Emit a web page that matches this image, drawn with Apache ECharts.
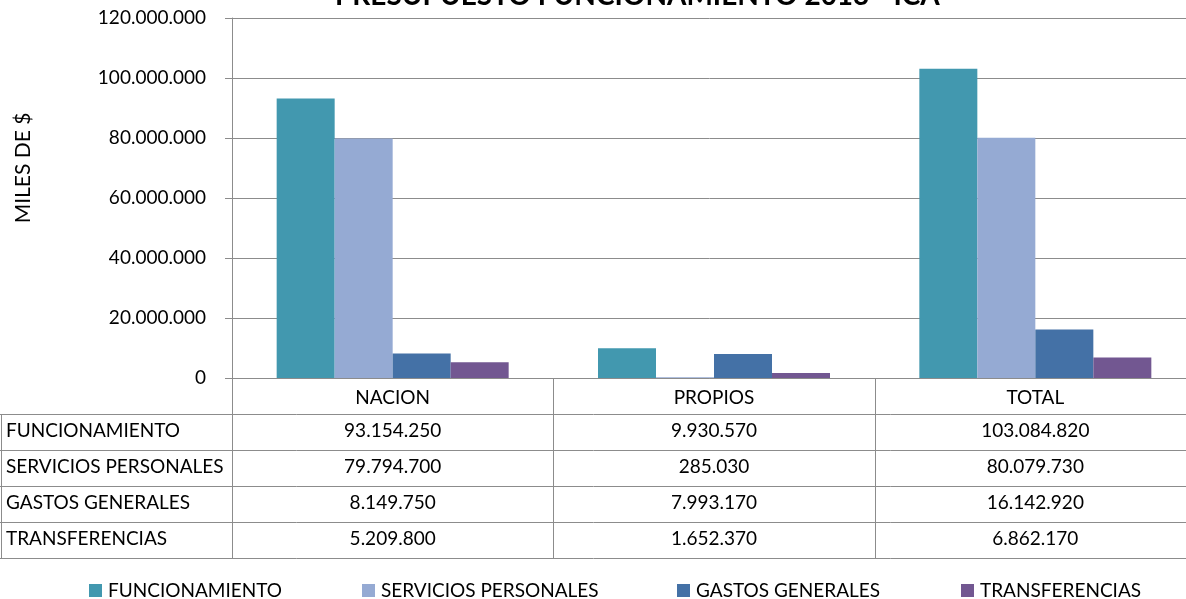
<!DOCTYPE html>
<html>
<head>
<meta charset="utf-8">
<script src="https://cdn.jsdelivr.net/npm/echarts@6/dist/echarts.min.js"></script>
<style>
html,body{margin:0;padding:0;background:#fff;}
#c{width:1186px;height:599px;}
</style>
</head>
<body>
<div id="c"></div>
<script>
var categories = ['NACION', 'PROPIOS', 'TOTAL'];
var seriesNames = ['FUNCIONAMIENTO', 'SERVICIOS PERSONALES', 'GASTOS GENERALES', 'TRANSFERENCIAS'];
var funcionamiento = [93154250, 9930570, 103084820];
var serviciosPersonales = [79794700, 285030, 80079730];
var gastosGenerales = [8149750, 7993170, 16142920];
var transferencias = [5209800, 1652370, 6862170];
var yTicks = [0, 20000000, 40000000, 60000000, 80000000, 100000000, 120000000];
var titleText = 'PRESUPUESTO FUNCIONAMIENTO 2013 - ICA';
var yAxisName = 'MILES DE $';

var colors = ['#4298AF', '#95AAD3', '#4471A6', '#725791'];
var FONT = 'Lato, "Open Sans", sans-serif';
var FS = 19;
var lineColor = '#8c8c8c';
var allValues = [funcionamiento, serviciosPersonales, gastosGenerales, transferencias];

function fmt(v) {
  return String(Math.round(v)).replace(/\B(?=(\d{3})+(?!\d))/g, '.');
}

var chart = echarts.init(document.getElementById('c'), null, {renderer: 'canvas'});

var legendLefts = [89, 362, 677, 961];
var legends = seriesNames.map(function (n, i) {
  return {
    data: [n],
    left: legendLefts[i],
    top: 581,
    padding: 0,
    itemWidth: 13,
    itemHeight: 13,
    itemGap: 0,
    icon: 'rect',
    textStyle: {fontFamily: FONT, fontSize: FS, color: '#000', padding: [0, 0, 0, 1]},
    selectedMode: false
  };
});

var option = {
  animation: false,
  color: colors,
  title: {
    text: titleText,
    left: 330,
    top: -23,
    textStyle: {fontFamily: FONT, fontSize: 28, fontWeight: 'bold', color: '#000'}
  },
  legend: legends,
  grid: {left: 232, width: 964, top: 18, height: 360, containLabel: false, outerBoundsMode: 'none'},
  xAxis: {
    type: 'category',
    data: categories,
    axisLine: {show: true, lineStyle: {color: lineColor, width: 1}},
    axisTick: {show: false},
    axisLabel: {fontFamily: FONT, fontSize: FS, color: '#000', margin: 10}
  },
  yAxis: {
    type: 'value',
    min: yTicks[0],
    max: yTicks[yTicks.length - 1],
    interval: yTicks[1] - yTicks[0],
    axisLine: {show: true, lineStyle: {color: lineColor, width: 1}},
    axisTick: {show: true, length: 7, inside: false, lineStyle: {color: lineColor}},
    axisLabel: {fontFamily: FONT, fontSize: FS, color: '#000', margin: 26, formatter: function (v) { return fmt(v); }},
    splitLine: {show: true, lineStyle: {color: lineColor, width: 1}}
  },
  series: seriesNames.map(function (n, i) {
    return {
      name: n,
      type: 'bar',
      data: allValues[i],
      barWidth: 58,
      barGap: '0%',
      itemStyle: {color: colors[i]}
    };
  })
};
chart.setOption(option);

// Data table drawn under the axis, positioned from the category axis scale
function buildTable() {
  var c0 = chart.convertToPixel({xAxisIndex: 0}, 0);
  var c1 = chart.convertToPixel({xAxisIndex: 0}, 1);
  var catW = c1 - c0;
  var axisY = chart.convertToPixel({yAxisIndex: 0}, 0);
  var axisX = c0 - catW / 2;
  var rightX = c0 + catW * (categories.length - 0.5);
  var rowH = 36;
  var headerBottom = axisY + 36;
  var rowsBottom = headerBottom + rowH * seriesNames.length;
  var els = [];
  var ls = {stroke: lineColor, lineWidth: 1};
  for (var r = 0; r <= seriesNames.length; r++) {
    var y = Math.round(headerBottom + r * rowH) + 0.5;
    els.push({type: 'line', shape: {x1: 0, y1: y, x2: rightX, y2: y}, style: ls, silent: true});
  }
  els.push({type: 'line', shape: {x1: 1.5, y1: headerBottom, x2: 1.5, y2: rowsBottom}, style: ls, silent: true});
  els.push({type: 'line', shape: {x1: Math.round(axisX) + 0.5, y1: axisY, x2: Math.round(axisX) + 0.5, y2: rowsBottom}, style: ls, silent: true});
  for (var k = 1; k < categories.length; k++) {
    var bx = Math.round(c0 + catW * (k - 0.5)) + 0.5;
    els.push({type: 'line', shape: {x1: bx, y1: axisY, x2: bx, y2: rowsBottom}, style: ls, silent: true});
  }
  for (var s = 0; s < seriesNames.length; s++) {
    var cy = headerBottom + rowH * (s + 0.5) - 1;
    els.push({type: 'text', x: 6, y: cy, style: {text: seriesNames[s], font: FS + 'px ' + FONT, fill: '#000', textAlign: 'left', textVerticalAlign: 'middle'}, silent: true});
    for (var j = 0; j < categories.length; j++) {
      var cx = chart.convertToPixel({xAxisIndex: 0}, j);
      els.push({type: 'text', x: cx, y: cy, style: {text: fmt(allValues[s][j]), font: FS + 'px ' + FONT, fill: '#000', textAlign: 'center', textVerticalAlign: 'middle'}, silent: true});
    }
  }
  // y axis name, rotated, left of the tick labels
  els.push({type: 'text', x: 23, y: 168, rotation: Math.PI / 2, style: {text: yAxisName, font: '21px ' + FONT, fill: '#000', textAlign: 'center', textVerticalAlign: 'middle'}, silent: true});
  chart.setOption({graphic: {elements: els}});
}
buildTable();
</script>
</body>
</html>
